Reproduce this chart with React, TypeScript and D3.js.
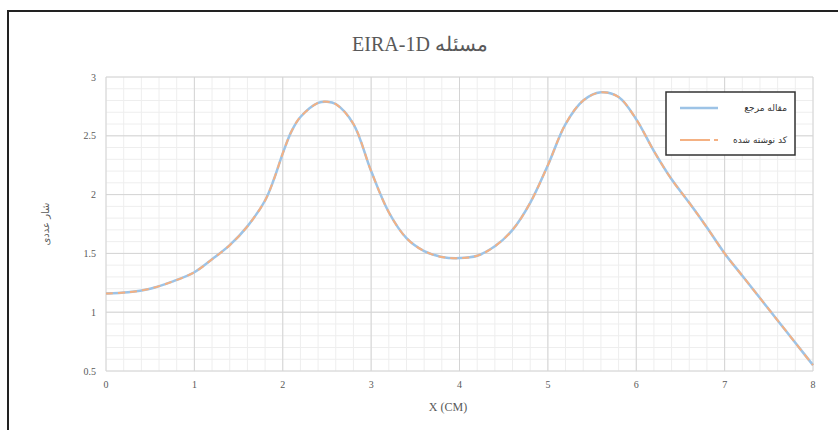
import React from "react";
import * as d3 from "d3";

// values
const xValues = [0, 0.25, 0.5, 0.75, 1, 1.2, 1.4, 1.6, 1.8, 1.9, 2.0, 2.1, 2.2, 2.4, 2.5, 2.6, 2.8, 3.0, 3.2, 3.4, 3.6, 3.8, 4.0, 4.2, 4.4, 4.6, 4.8, 5.0, 5.2, 5.4, 5.6, 5.8, 6.0, 6.2, 6.4, 6.6, 6.8, 7.0, 7.2, 7.4, 7.6, 7.8, 8.0];
const referenceSeries = [1.16, 1.17, 1.2, 1.26, 1.34, 1.45, 1.57, 1.73, 1.95, 2.13, 2.35, 2.54, 2.66, 2.78, 2.79, 2.77, 2.6, 2.2, 1.85, 1.63, 1.52, 1.47, 1.46, 1.48, 1.56, 1.7, 1.93, 2.25, 2.6, 2.8, 2.87, 2.83, 2.64, 2.37, 2.13, 1.93, 1.72, 1.5, 1.31, 1.12, 0.93, 0.74, 0.55];
const codeSeries = [1.16, 1.17, 1.2, 1.26, 1.34, 1.45, 1.57, 1.73, 1.95, 2.13, 2.35, 2.54, 2.66, 2.78, 2.79, 2.77, 2.6, 2.2, 1.85, 1.63, 1.52, 1.47, 1.46, 1.48, 1.56, 1.7, 1.93, 2.25, 2.6, 2.8, 2.87, 2.83, 2.64, 2.37, 2.13, 1.93, 1.72, 1.5, 1.31, 1.12, 0.93, 0.74, 0.55];
const xTicks = [0, 1, 2, 3, 4, 5, 6, 7, 8];
const yTicks = [0.5, 1, 1.5, 2, 2.5, 3];
const seriesNames = ["مقاله مرجع", "کد نوشته شده"];

const W = 838;
const H = 430;
const margin = { left: 106, right: 25, top: 77, bottom: 59 };

export default function App() {
  const x = d3.scaleLinear().domain([0, 8]).range([margin.left, W - margin.right]);
  const y = d3.scaleLinear().domain([0.5, 3]).range([H - margin.bottom, margin.top]);

  const line = d3
    .line<number>()
    .x((_, i) => x(xValues[i]))
    .y((d) => y(d))
    .curve(d3.curveCatmullRom.alpha(0.5));

  const minorX = d3.range(0, 8.001, 0.2);
  const minorY = d3.range(0.5, 3.001, 0.1);
  const fontSerif = "'Liberation Serif', 'DejaVu Serif', serif";
  const gray = "#595959";

  return (
    <div style={{ position: "fixed", left: 0, top: 0 }}>
      <svg width={W} height={H} style={{ display: "block", background: "#fff" }}>
        <rect x={8} y={11} width={W} height={H} fill="#fff" stroke="#222" strokeWidth={2} />

        <text x={420} y={51} textAnchor="middle" fontFamily={fontSerif} fontSize={20} fill={gray}>
          EIRA-1D مسئله
        </text>

        {/* minor grid */}
        <g stroke="#eeeeee" strokeWidth={1}>
          {minorX.map((v, i) => (
            <line key={"mx" + i} x1={x(v)} x2={x(v)} y1={y(0.5)} y2={y(3)} />
          ))}
          {minorY.map((v, i) => (
            <line key={"my" + i} x1={x(0)} x2={x(8)} y1={y(v)} y2={y(v)} />
          ))}
        </g>
        {/* major grid */}
        <g stroke="#d4d4d4" strokeWidth={1}>
          {xTicks.map((v) => (
            <line key={"gx" + v} x1={x(v)} x2={x(v)} y1={y(0.5)} y2={y(3)} />
          ))}
          {yTicks.map((v) => (
            <line key={"gy" + v} x1={x(0)} x2={x(8)} y1={y(v)} y2={y(v)} />
          ))}
        </g>

        {/* tick labels */}
        <g fontFamily={fontSerif} fontSize={10} fill={gray}>
          {xTicks.map((v) => (
            <text key={"tx" + v} x={x(v)} y={y(0.5) + 17} textAnchor="middle">
              {v}
            </text>
          ))}
          {yTicks.map((v) => (
            <text key={"ty" + v} x={x(0) - 10} y={y(v) + 3.5} textAnchor="end">
              {v}
            </text>
          ))}
        </g>

        <text x={448} y={411} textAnchor="middle" fontFamily={fontSerif} fontSize={12} fill={gray}>
          X (CM)
        </text>
        <text
          transform={`translate(49, ${(y(0.5) + y(3)) / 2}) rotate(-90)`}
          textAnchor="middle"
          fontFamily="'DejaVu Sans', sans-serif"
          fontSize={10}
          fill={gray}
        >
          شار عددی
        </text>

        {/* series */}
        <path d={line(referenceSeries) || ""} fill="none" stroke="#9dc3e6" strokeWidth={2.5} />
        <path d={line(codeSeries) || ""} fill="none" stroke="#f4b183" strokeWidth={2} strokeDasharray="7,5" />

        {/* legend */}
        <rect x={666} y={92} width={129} height={63} fill="#fff" stroke="#333" strokeWidth={1.5} />
        <line x1={680} x2={718} y1={108} y2={108} stroke="#9dc3e6" strokeWidth={2.5} />
        <line x1={680} x2={718} y1={140} y2={140} stroke="#f4b183" strokeWidth={2} strokeDasharray="30,4" />
        <g fontFamily="'DejaVu Sans', sans-serif" fontSize={9} fill="#333" textAnchor="end">
          <text x={787} y={111}>{seriesNames[0]}</text>
          <text x={787} y={143}>{seriesNames[1]}</text>
        </g>
      </svg>
    </div>
  );
}
